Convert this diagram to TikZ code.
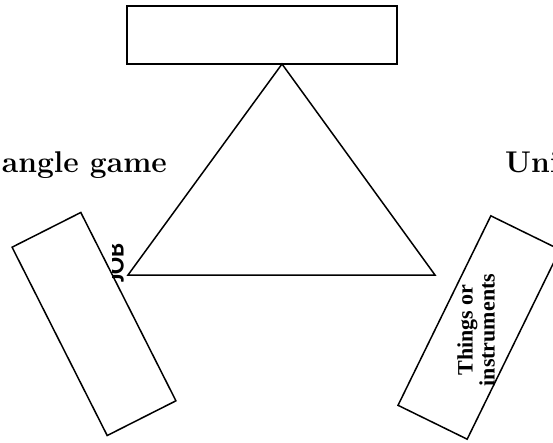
\documentclass[tikz,border=0pt]{standalone}
\usepackage{fontspec}
\newfontfamily\timesfont{Liberation Serif}
\newfontfamily\calibrifont{Carlito}
\begin{document}
\begin{tikzpicture}[x=1pt, y=-1pt,
  frame/.style={draw=black, line width=1.5pt, inner sep=0pt},
  heading/.style={font=\fontsize{30}{33}\selectfont\bfseries, inner sep=0pt},
  sidelabel/.style={font=\timesfont\fontsize{22}{22}\selectfont\bfseries, align=center, inner sep=0pt, rotate=90},
  joblabel/.style={font=\calibrifont\fontsize{25}{27}\selectfont\bfseries, inner sep=0pt, rotate=90}]
  \useasboundingbox (0,0) rectangle (553,442);
  \clip (0,0) rectangle (553,442);

  % headings on both sides
  \node[heading, anchor=base east] (leftgame) at (167,172) {angle game};
  \node[heading, anchor=base west] (rightgame) at (505,172) {Uni};

  % empty box on top
  \node[frame, line width=1.8pt, minimum width=270pt, minimum height=58pt] (topbox) at (262,35) {};

  % the triangle
  \coordinate (apex) at (282,64);
  \coordinate (left) at (128,275);
  \coordinate (right) at (435,275);
  \draw[line width=1.5pt, line join=miter] (apex) -- (left) -- (right) -- cycle;

  % tilted boxes
  \node[frame, minimum width=77pt, minimum height=211pt, rotate=26.8] (leftbox) at (94,324) {};
  \node[frame, minimum width=77pt, minimum height=211pt, rotate=-26.1] (rightbox) at (479,327.5) {};

  % labels; the JOB label sits in a narrow text frame that trims its tops
  \begin{scope}
    \clip (112,225) rectangle (140,300);
    \node[joblabel, anchor=base] (job) at (123.5,263) {JOB};
  \end{scope}
  \node[sidelabel] (things) at (476,330) {Things or\\instruments};
\end{tikzpicture}
\end{document}
